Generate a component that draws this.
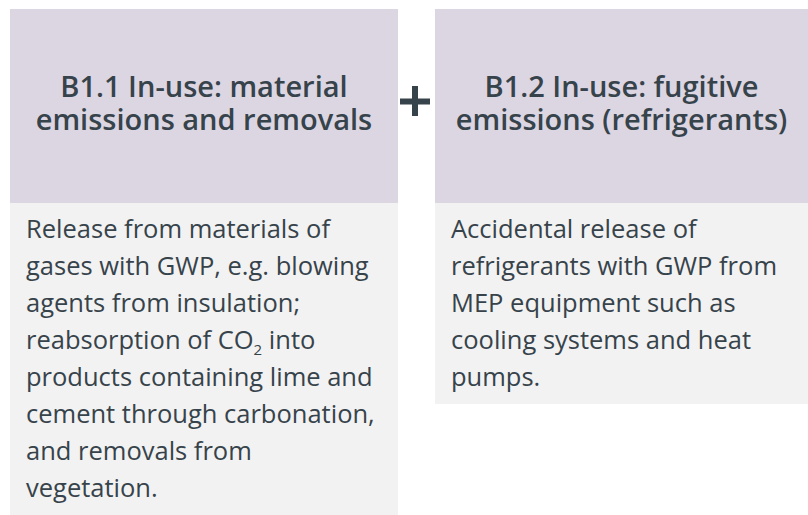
import React from "react";

const titles: string[][] = [
  ["B1.1 In-use: material", "emissions and removals"],
  ["B1.2 In-use: fugitive", "emissions (refrigerants)"],
];

// Each line is a list of [text, isSubscript] segments
const descriptions: [string, boolean][][][] = [
  [
    [["Release from materials of", false]],
    [["gases with GWP, e.g. blowing", false]],
    [["agents from insulation;", false]],
    [["reabsorption of CO", false], ["2", true], [" into", false]],
    [["products containing lime and", false]],
    [["cement through carbonation,", false]],
    [["and removals from", false]],
    [["vegetation.", false]],
  ],
  [
    [["Accidental release of", false]],
    [["refrigerants with GWP from", false]],
    [["MEP equipment such as", false]],
    [["cooling systems and heat", false]],
    [["pumps.", false]],
  ],
];

const W = 808;
const H = 515;
const TEXT = "#37434b";
const HEAD_BG = "#dcd6e3";
const BODY_BG = "#f2f2f2";
const FONT = "'Open Sans', sans-serif";

const cols = [
  { x: 10, w: 388, bodyBottom: 515 },
  { x: 435, w: 373, bodyBottom: 404 },
];
const top = 9;
const headBottom = 203;

export default function App() {
  return (
    <svg
      width={W}
      height={H}
      style={{ position: "absolute", left: 0, top: 0, display: "block" }}
      fontFamily={FONT}
    >
      <rect x={0} y={0} width={W} height={H} fill="#ffffff" />
      {cols.map((c, i) => (
        <g key={i}>
          <rect x={c.x} y={top} width={c.w} height={headBottom - top} fill={HEAD_BG} />
          <rect x={c.x} y={headBottom} width={c.w} height={c.bodyBottom - headBottom} fill={BODY_BG} />
          <text
            textAnchor="middle"
            fontSize={29}
            fontWeight={600}
            fill={TEXT}
          >
            {titles[i].map((t, j) => (
              <tspan key={j} x={c.x + c.w / 2} y={97 + j * 33}>
                {t}
              </tspan>
            ))}
          </text>
          <text fontSize={25.5} fill={TEXT}>
            {descriptions[i].map((line, j) => (
              <tspan key={j} x={c.x + 16} y={238 + j * 37}>
                {line.map(([s, sub], k) =>
                  sub ? (
                    <tspan key={k} fontSize={15} dy={6}>
                      {s}
                    </tspan>
                  ) : (
                    <tspan key={k} dy={k > 0 && line[k - 1][1] ? -6 : 0}>
                      {s}
                    </tspan>
                  )
                )}
              </tspan>
            ))}
          </text>
        </g>
      ))}
      <rect x={400} y={98.5} width={30} height={6} fill={TEXT} />
      <rect x={412} y={86} width={6} height={30} fill={TEXT} />
    </svg>
  );
}
